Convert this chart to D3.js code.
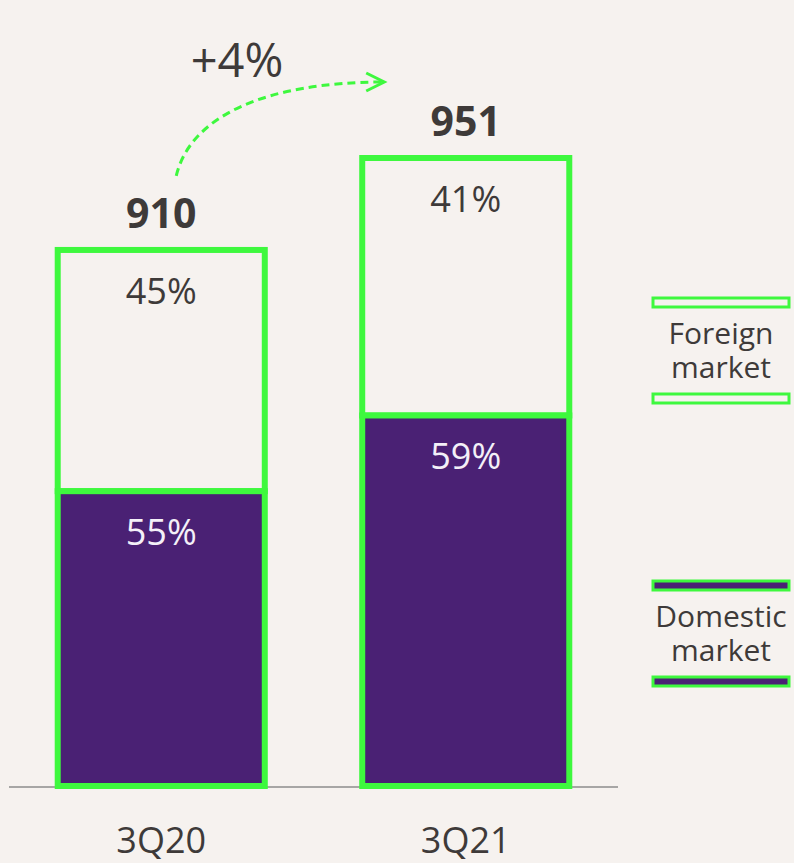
<!DOCTYPE html>
<html>
<head>
<meta charset="utf-8">
<script src="https://cdn.jsdelivr.net/npm/d3@7"></script>
<style>
  html, body { margin: 0; padding: 0; background: #f6f2ef; }
  svg { display: block; }
  text { font-family: "Open Sans", sans-serif; }
</style>
</head>
<body>
<svg id="chart" width="794" height="863"></svg>
<script>
// data
const categories = ["3Q20", "3Q21"];
const totals = [910, 951];
const domesticShare = [55, 59];
const foreignShare = [45, 41];
const growthLabel = "+4%";
const legendLabels = [["Foreign", "market"], ["Domestic", "market"]];

const green = "#3ef83e",
    purple = "#4a2174",
    textColor = "#3e3a39";

const svg = d3.select("#chart");

svg.append("rect").attr("width", 794).attr("height", 863).attr("fill", "#f6f2ef");

// x: two wide bands over the baseline
const x = d3.scaleBand()
    .domain(categories)
    .range([9, 618])
    .paddingInner(0.32)
    .paddingOuter(0.16);

// bar height scale (the original does not start at zero)
const y = d3.scaleLinear()
    .domain([671, 951])
    .range([786, 158]);

const bars = categories.map((c, i) => {
    const top = y(totals[i]);
    const h = y.range()[0] - top;
    const split = y.range()[0] - h * domesticShare[i] / 100;
    return { cat: c, total: totals[i], top: top, split: split, bottom: y.range()[0], dom: domesticShare[i], fgn: foreignShare[i] };
});

// baseline
svg.append("line")
    .attr("x1", 9).attr("x2", 618)
    .attr("y1", 787).attr("y2", 787)
    .attr("stroke", "#8c8c8c")
    .attr("stroke-width", 1.5);

const g = svg.append("g");

// foreign (upper) part
g.selectAll("rect.foreign")
    .data(bars)
    .join("rect")
    .attr("class", "foreign")
    .attr("x", d => x(d.cat))
    .attr("y", d => d.top)
    .attr("width", x.bandwidth())
    .attr("height", d => d.split - d.top)
    .attr("fill", "none")
    .attr("stroke", green)
    .attr("stroke-width", 6);

// domestic (lower) part
g.selectAll("rect.domestic")
    .data(bars)
    .join("rect")
    .attr("class", "domestic")
    .attr("x", d => x(d.cat))
    .attr("y", d => d.split)
    .attr("width", x.bandwidth())
    .attr("height", d => d.bottom - d.split)
    .attr("fill", purple)
    .attr("stroke", green)
    .attr("stroke-width", 6);

// share labels
g.selectAll("text.fgn")
    .data(bars)
    .join("text")
    .attr("x", d => x(d.cat) + x.bandwidth() / 2)
    .attr("y", d => d.top + 54)
    .attr("text-anchor", "middle")
    .attr("font-size", 36)
    .attr("fill", textColor)
    .text(d => d.fgn + "%");

g.selectAll("text.dom")
    .data(bars)
    .join("text")
    .attr("x", d => x(d.cat) + x.bandwidth() / 2)
    .attr("y", d => d.split + 54)
    .attr("text-anchor", "middle")
    .attr("font-size", 36)
    .attr("fill", "#f4f0f8")
    .text(d => d.dom + "%");

// totals
g.selectAll("text.total")
    .data(bars)
    .join("text")
    .attr("x", d => x(d.cat) + x.bandwidth() / 2)
    .attr("y", d => d.top - 22)
    .attr("text-anchor", "middle")
    .attr("font-size", 41)
    .attr("font-weight", "bold")
    .attr("fill", textColor)
    .text(d => d.total);

// category labels
g.selectAll("text.cat")
    .data(bars)
    .join("text")
    .attr("x", d => x(d.cat) + x.bandwidth() / 2)
    .attr("y", 853)
    .attr("text-anchor", "middle")
    .attr("font-size", 36)
    .attr("fill", textColor)
    .text(d => d.cat);

// growth arrow
const x0 = x(categories[0]) + x.bandwidth() / 2 + 15,
    y0 = bars[0].top - 74,
    x1 = x(categories[1]) + 21,
    y1 = 82;

svg.append("path")
    .attr("d", `M${x0},${y0} C${x0 + 14},${y0 - 60} ${x0 + 90},${y1} ${x1},${y1}`)
    .attr("fill", "none")
    .attr("stroke", green)
    .attr("stroke-width", 3)
    .attr("stroke-dasharray", "8,5");

svg.append("path")
    .attr("d", `M${x1 - 17},${y1 - 9} L${x1 + 1},${y1} L${x1 - 17},${y1 + 9}`)
    .attr("fill", "none")
    .attr("stroke", green)
    .attr("stroke-width", 3);

svg.append("text")
    .attr("x", 237)
    .attr("y", 77)
    .attr("text-anchor", "middle")
    .attr("font-size", 47)
    .attr("fill", textColor)
    .text(growthLabel);

// legend
const legendTops = [297, 580];
const legendFill = ["none", purple];

legendLabels.forEach((lines, i) => {
    const lg = svg.append("g").attr("transform", `translate(0,${legendTops[i]})`);
    [0, 96].forEach(dy => {
        lg.append("rect")
            .attr("x", 653).attr("y", dy + 1)
            .attr("width", 136).attr("height", 9)
            .attr("fill", legendFill[i])
            .attr("stroke", green)
            .attr("stroke-width", 3);
    });
    lines.forEach((t, j) => {
        lg.append("text")
            .attr("x", 721)
            .attr("y", 47 + j * 34)
            .attr("text-anchor", "middle")
            .attr("font-size", 30)
            .attr("fill", textColor)
            .text(t);
    });
});
</script>
</body>
</html>
